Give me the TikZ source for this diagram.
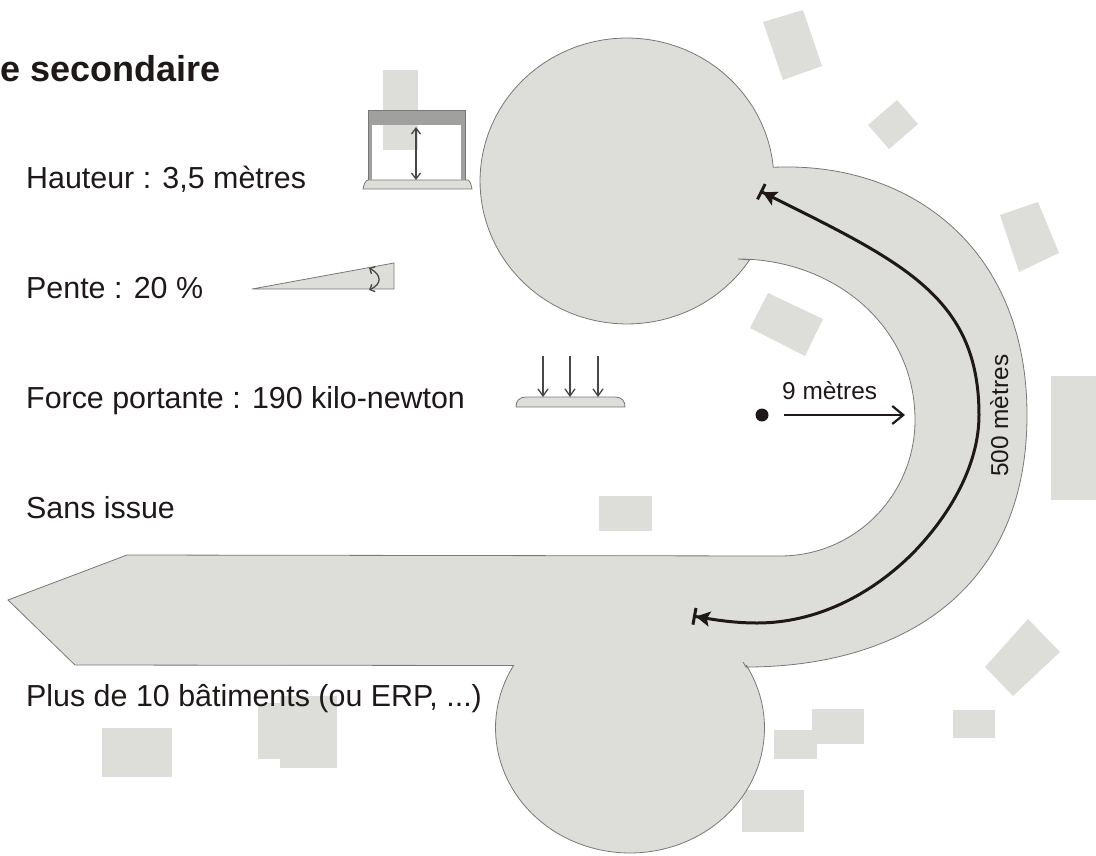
\documentclass[tikz,border=0pt]{standalone}
\usepackage{fontspec}
\setmainfont{Liberation Sans}
\usetikzlibrary{arrows.meta}
\definecolor{roadgray}{RGB}{221,222,218}
\definecolor{edgegray}{RGB}{120,120,118}
\definecolor{bandgray}{RGB}{160,160,158}
\definecolor{inkc}{RGB}{30,24,24}
\tikzset{
  bldg/.style={fill=roadgray,draw=none},
  road/.style={fill=roadgray,draw=edgegray,line width=0.8pt},
  lbl/.style={anchor=base west,inner sep=0pt,font=\fontsize{30.4}{30.4}\selectfont,text=inkc},
  small/.style={inner sep=0pt,font=\fontsize{24.4}{24.4}\selectfont,text=inkc},
  bigtip/.tip={Stealth[length=14pt,width=15pt,inset=3pt]Bar[width=17pt,line width=3pt]},
  bigarrow/.style={draw=inkc,line width=3pt,{bigtip}-{bigtip}},
  thinarrow/.style={draw=inkc!80,line width=1.3pt,{Straight Barb[length=6pt,width=9pt]}-{Straight Barb[length=6pt,width=9pt]}},
  downarrow/.style={draw=inkc!80,line width=1.3pt,-{Straight Barb[length=7pt,width=10pt]}},
}
\begin{document}
\begin{tikzpicture}[x=1pt,y=-1pt]
\useasboundingbox (0,0) rectangle (1096,855);
% buildings
\fill[bldg] (763,22)--(803,10)--(822,66)--(783,80)--cycle;
\fill[bldg] (868,125)--(897,100)--(918,124)--(889,149)--cycle;
\fill[bldg] (1000,215)--(1038,202)--(1059,253)--(1019,272)--cycle;
\fill[bldg] (750,328)--(768,293)--(823,319)--(805,356)--cycle;
\fill[bldg] (1051,376) rectangle (1096,500);
\fill[bldg] (599,496) rectangle (652,531);
\fill[bldg] (985,667)--(1028,619)--(1060,652)--(1013,696)--cycle;
\fill[bldg] (953,710) rectangle (995,738);
\fill[bldg] (812,709) rectangle (864,744);
\fill[bldg] (774,730) rectangle (817,759);
\fill[bldg] (742,790) rectangle (804,832);
\fill[bldg] (102,728) rectangle (172,777);
\fill[bldg] (258,703) rectangle (281,759);
\fill[bldg] (280,696) rectangle (337,768);
\fill[bldg] (383,70) rectangle (418,150);
% road
\path[road] (127,555) -- (780,556)
  .. controls (855,556) and (915,495) .. (915,420)
  .. controls (915,325) and (833,259) .. (738,259)
  -- plot[domain=33.5:354.5,samples=90,variable=\t] ({627+147*cos(\t)},{181+143*sin(\t)})
  .. controls (907,161) and (1027,245) .. (1027,415)
  .. controls (1027,595) and (896,667) .. (746,667)
  -- (743,662) -- (746,667)
  -- plot[domain=-30:210,samples=80,variable=\t] ({630+134.5*cos(\t)},{728+125*sin(\t)})
  -- (75,665) -- (8,600) -- cycle;
% portique
\path[road] (363,189) .. controls (364,184) and (365,181) .. (368,180) -- (468,180) .. controls (470,181) and (471,184) .. (472,189) -- cycle;
\fill[bandgray] (368,110) rectangle (465,125);
\fill[bandgray] (368,125) rectangle (372,180);
\fill[bandgray] (461,125) rectangle (465,180);
\draw[edgegray,line width=0.8pt] (368,180) -- (368,110) -- (465,110) -- (465,180);
\coordinate (pa) at (416,127);
\coordinate (pb) at (416,180);
\draw[thinarrow] (pa) -- (pb);
% pente
\path[road] (252,289) -- (394,263) -- (394,289) -- cycle;
\draw[draw=inkc!80,line width=1.3pt,{Straight Barb[length=4pt,width=8pt]}-{Straight Barb[length=4pt,width=8pt]}] (369,268) .. controls (382,275) and (382,284) .. (369,290);
% force
\path[road] (516,407) .. controls (516,401) and (519,397) .. (526,397) -- (615,397) .. controls (622,397) and (625,401) .. (625,407) -- cycle;
\coordinate (f1t) at (543,356); \coordinate (f1b) at (543,397);
\coordinate (f2t) at (570,356); \coordinate (f2b) at (570,397);
\coordinate (f3t) at (598,356); \coordinate (f3b) at (598,397);
\draw[downarrow] (f1t) -- (f1b);
\draw[downarrow] (f2t) -- (f2b);
\draw[downarrow] (f3t) -- (f3b);
% long arc
\draw[bigarrow] (760,191) .. controls (900,261) and (979,295) .. (979,415)
  .. controls (979,465) and (950,515) .. (913,553)
  .. controls (870,596) and (815,623) .. (757,623)
  .. controls (735,623) and (715,620) .. (693,616);
% radius
\node[circle,fill=inkc,inner sep=0pt,minimum size=13pt] (dot) at (762,415) {};
\coordinate (rs) at (784,415);
\coordinate (re) at (905,415);
\draw[draw=inkc,line width=2.2pt,-{Straight Barb[length=11pt,width=18pt]}] (rs) -- (re);
\node[small,anchor=base west] (neuf) at (782,399) {9 mètres};
\node[small,rotate=90,anchor=base west] (cinq) at (1008,477) {500 mètres};
% text
\node[lbl,font=\fontsize{36}{36}\selectfont\bfseries] (title) at (0.5,81) {e secondaire};
\node[lbl] (t1) at (26,188) {Hauteur : 3,5 mètres};
\node[lbl] (t2) at (26,298) {Pente : 20 \%};
\node[lbl] (t3) at (26,408) {Force portante : 190 kilo-newton};
\node[lbl] (t4) at (26,518) {Sans issue};
\node[lbl] (t5) at (26,706) {Plus de 10 bâtiments (ou ERP, ...)};
\end{tikzpicture}
\end{document}
